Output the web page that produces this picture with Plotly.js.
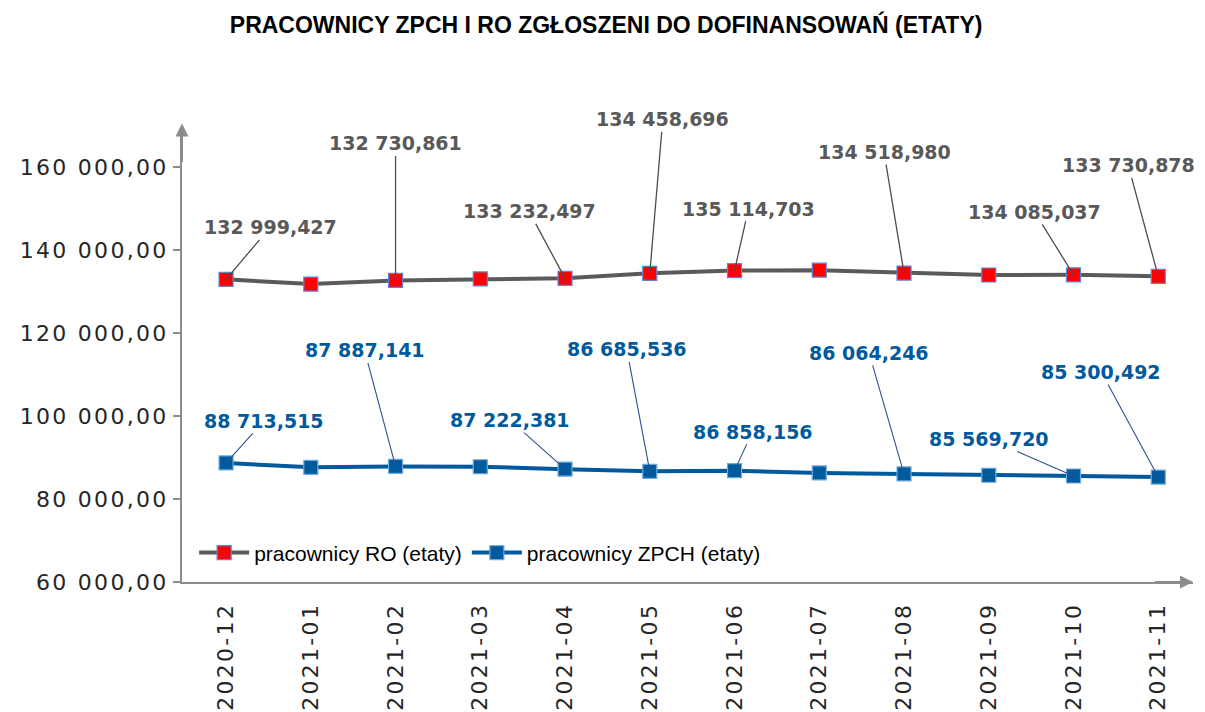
<!DOCTYPE html>
<html>
<head>
<meta charset="utf-8">
<script src="https://cdn.plot.ly/plotly-3.0.1.min.js"></script>
<style>
  html, body { margin: 0; padding: 0; background: #fff; }
  #chart { width: 1205px; height: 712px; }
  .ytick text { letter-spacing: 2.3px; }
  .xtick text { letter-spacing: 2.3px; }
</style>
</head>
<body>
<div id="chart"></div>
<script>
// ---- data ----
const months = ['2020-12','2021-01','2021-02','2021-03','2021-04','2021-05','2021-06','2021-07','2021-08','2021-09','2021-10','2021-11'];
const roValues = [132999.427, 131850, 132730.861, 133100, 133232.497, 134458.696, 135114.703, 135200, 134518.980, 134050, 134085.037, 133730.878];
const zpchValues = [88713.515, 87650, 87887.141, 87800, 87222.381, 86685.536, 86858.156, 86300, 86064.246, 85750, 85569.720, 85300.492];
const roLabelIdx = [0, 2, 4, 5, 6, 8, 10, 11];
const zpchLabelIdx = [0, 2, 4, 5, 6, 8, 10, 11];
const yTickVals = [60000, 80000, 100000, 120000, 140000, 160000];
const yTickText = ['60 000,00', '80 000,00', '100 000,00', '120 000,00', '140 000,00', '160 000,00'];
const seriesNames = ['pracownicy RO (etaty)', 'pracownicy ZPCH (etaty)'];
const chartTitle = 'PRACOWNICY ZPCH I RO ZGŁOSZENI DO DOFINANSOWAŃ (ETATY)';

// ---- styles ----
const roLabelOffsets = [[44,-52],[0,-137],[-36,-67],[13,-154],[14,-62],[-20,-121],[-39,-63],[-30,-111]];
const zpchLabelOffsets = [[38,-42],[-31,-116],[-55,-49],[-23,-122],[18,-39],[-35,-121],[-85,-37],[-57,-105]];
const RO_LINE = '#5a5a5a', ZP_LINE = '#005a9e', AXIS = '#8c8c8c';

function fmt(v) {
  const parts = v.toFixed(3).split('.');
  const intPart = parts[0].replace(/\B(?=(\d{3})+(?!\d))/g, ' ');
  return intPart + ',' + parts[1];
}

const traces = [
  {
    x: months, y: roValues, name: seriesNames[0], type: 'scatter', mode: 'lines+markers',
    line: {color: RO_LINE, width: 4},
    marker: {symbol: 'square', size: 14, color: '#ff0000', line: {color: '#5b86d6', width: 1.2}}
  },
  {
    x: months, y: zpchValues, name: seriesNames[1], type: 'scatter', mode: 'lines+markers',
    line: {color: ZP_LINE, width: 4},
    marker: {symbol: 'square', size: 14, color: ZP_LINE, line: {color: '#6fa8dc', width: 1.2}}
  }
];

const annotations = [];
roLabelIdx.forEach((i, k) => {
  annotations.push({
    x: months[i], y: roValues[i], xref: 'x', yref: 'y', text: fmt(roValues[i]),
    showarrow: true, arrowhead: 0, arrowwidth: 1.3, arrowcolor: '#4d4d4d',
    ax: roLabelOffsets[k][0], ay: roLabelOffsets[k][1],
    font: {family: 'DejaVu Sans, Verdana, sans-serif', size: 19, color: '#595959', weight: 'bold'}
  });
});
zpchLabelIdx.forEach((i, k) => {
  annotations.push({
    x: months[i], y: zpchValues[i], xref: 'x', yref: 'y', text: fmt(zpchValues[i]),
    showarrow: true, arrowhead: 0, arrowwidth: 1.1, arrowcolor: '#2f4f8f',
    ax: zpchLabelOffsets[k][0], ay: zpchLabelOffsets[k][1],
    font: {family: 'DejaVu Sans, Verdana, sans-serif', size: 19, color: ZP_LINE, weight: 'bold'}
  });
});
// axis arrowheads
annotations.push({x: 0, y: 1.01, xref: 'paper', yref: 'paper', text: '', showarrow: true,
  arrowhead: 2, arrowsize: 1.3, arrowwidth: 2, arrowcolor: AXIS, ax: 0, ay: 40, standoff: 0});
annotations.push({x: 1.0, y: 0, xref: 'paper', yref: 'paper', text: '', showarrow: true,
  arrowhead: 2, arrowsize: 1.3, arrowwidth: 2, arrowcolor: AXIS, ax: -40, ay: 0, standoff: 0});

const layout = {
  width: 1205, height: 712,
  paper_bgcolor: '#ffffff', plot_bgcolor: '#ffffff',
  margin: {l: 182, r: 12, t: 128, b: 130},
  title: {text: chartTitle, x: 0.503, xanchor: 'center', y: 0.965, yanchor: 'middle',
    font: {family: 'Liberation Sans, Arial, sans-serif', size: 23, color: '#000', weight: 'bold'}},
  showlegend: true,
  legend: {orientation: 'h', x: 0.012, y: 0.064, xanchor: 'left', yanchor: 'middle',
    bgcolor: 'rgba(0,0,0,0)', font: {family: 'Liberation Sans, Arial, sans-serif', size: 21, color: '#000'},
    itemwidth: 50, tracegroupgap: 0},
  xaxis: {
    type: 'category', range: [-0.52, 11.41], showgrid: false, zeroline: false,
    showline: true, linecolor: AXIS, linewidth: 2,
    ticks: 'outside', ticklen: 10, tickcolor: 'rgba(0,0,0,0)', tickangle: -90,
    tickfont: {family: 'DejaVu Sans, Verdana, sans-serif', size: 22, color: '#262626'}
  },
  yaxis: {
    range: [60000, 169500], showgrid: false, zeroline: false,
    showline: true, linecolor: AXIS, linewidth: 2,
    ticks: 'outside', ticklen: 7, tickwidth: 2, tickcolor: AXIS,
    tickvals: yTickVals, ticktext: yTickText,
    tickfont: {family: 'DejaVu Sans, Verdana, sans-serif', size: 22, color: '#262626'}
  },
  annotations: annotations
};

Plotly.newPlot('chart', traces, layout, {displayModeBar: false, staticPlot: true});
</script>
</body>
</html>
